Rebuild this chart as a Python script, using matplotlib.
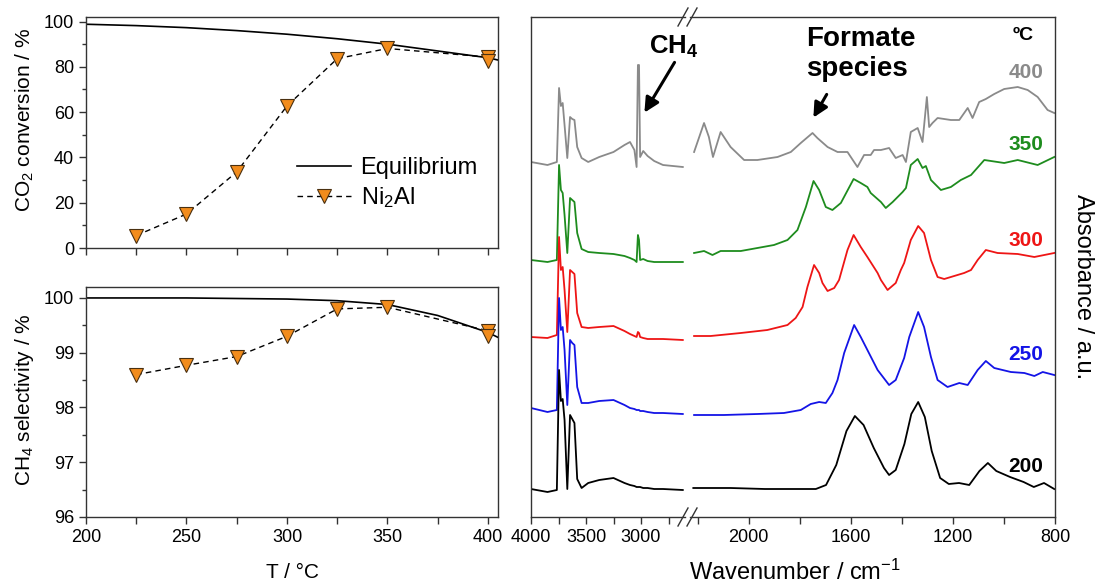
# Catalytic tests (left) and operando IR spectra (right)
import matplotlib
matplotlib.use("Agg")
import matplotlib.pyplot as plt
from matplotlib.lines import Line2D
from matplotlib.ticker import MultipleLocator

plt.rcParams['font.family'] = ['Liberation Sans', 'DejaVu Sans']
plt.rcParams['mathtext.fontset'] = 'custom'
plt.rcParams['mathtext.rm'] = 'Liberation Sans'
plt.rcParams['mathtext.bf'] = 'Liberation Sans:bold'
plt.rcParams['mathtext.default'] = 'regular'

# ---- catalytic data ----
temp_eq = [200, 225, 250, 275, 300, 325, 350, 375, 400, 405]
conv_eq = [98.8, 98.2, 97.3, 96.0, 94.4, 92.4, 90.0, 87.0, 84.0, 83.0]
sel_eq = [100.0, 100.0, 100.0, 99.99, 99.98, 99.95, 99.88, 99.68, 99.37, 99.28]

temp_cat = [225, 250, 275, 300, 325, 350, 400, 400]
conv_cat = [5.5, 15.0, 33.6, 62.7, 83.6, 88.1, 84.3, 82.6]
sel_cat = [98.6, 98.77, 98.93, 99.3, 99.8, 99.83, 99.4, 99.3]

# ---- IR spectra, high wavenumber part (4000-2600) ----
wn_lo = [4000, 3850, 3765, 3745, 3728, 3712, 3695, 3670, 3645, 3625, 3605, 3580, 3540, 3480,
         3380, 3250, 3150, 3100, 3060, 3040, 3028, 3018, 3008, 2980, 2940, 2880, 2800, 2620]
abs_400_lo = [3.55, 3.52, 3.55, 4.29, 4.11, 4.14, 3.92, 3.59, 4.00, 3.98, 3.97, 3.70, 3.59, 3.55,
              3.60, 3.65, 3.72, 3.75, 3.67, 3.50, 4.52, 4.52, 3.60, 3.66, 3.61, 3.56, 3.52, 3.50]
abs_350_lo = [2.57, 2.55, 2.57, 3.52, 3.27, 3.24, 3.02, 2.64, 3.19, 3.17, 3.15, 2.84, 2.68, 2.65,
              2.64, 2.63, 2.61, 2.59, 2.57, 2.55, 2.82, 2.77, 2.57, 2.58, 2.56, 2.55, 2.55, 2.55]
abs_300_lo = [1.80, 1.79, 1.82, 2.80, 2.47, 2.50, 2.27, 1.85, 2.47, 2.45, 2.43, 2.04, 1.90, 1.89,
              1.90, 1.91, 1.86, 1.83, 1.81, 1.80, 1.85, 1.84, 1.80, 1.79, 1.78, 1.78, 1.78, 1.77]
abs_250_lo = [1.09, 1.05, 1.07, 2.19, 1.87, 1.90, 1.67, 1.12, 1.77, 1.74, 1.72, 1.30, 1.14, 1.14,
              1.16, 1.17, 1.12, 1.09, 1.08, 1.07, 1.07, 1.07, 1.06, 1.06, 1.05, 1.04, 1.04, 1.03]
abs_200_lo = [0.28, 0.25, 0.27, 1.47, 1.16, 1.18, 0.97, 0.28, 1.02, 0.98, 0.94, 0.38, 0.29, 0.34,
              0.37, 0.39, 0.34, 0.32, 0.31, 0.30, 0.30, 0.30, 0.30, 0.29, 0.29, 0.28, 0.28, 0.27]

# ---- IR spectra, low wavenumber part (2230-800) ----
wn_400_hi = [2214, 2175, 2156, 2140, 2110, 2071, 2018, 1966, 1887, 1835, 1796, 1750, 1731, 1691, 1652,
             1613, 1574, 1548, 1522, 1509, 1482, 1450, 1424, 1397, 1384, 1365, 1338, 1319, 1302, 1293,
             1280, 1260, 1208, 1175, 1142, 1123, 1097, 1071, 1038, 999, 946, 907, 868, 829, 803]
abs_400_hi = [3.65, 3.94, 3.80, 3.60, 3.85, 3.70, 3.57, 3.57, 3.60, 3.65, 3.74, 3.84, 3.79, 3.70, 3.65,
              3.65, 3.50, 3.62, 3.62, 3.67, 3.67, 3.69, 3.59, 3.62, 3.55, 3.85, 3.89, 3.75, 4.20, 3.90,
              3.94, 3.99, 3.97, 3.97, 4.09, 3.99, 4.15, 4.18, 4.23, 4.28, 4.30, 4.27, 4.20, 4.07, 4.04]
wn_350_hi = [2214, 2175, 2142, 2110, 2031, 1966, 1901, 1848, 1809, 1776, 1746, 1724, 1698, 1672, 1639,
             1589, 1561, 1535, 1522, 1482, 1463, 1436, 1397, 1384, 1365, 1338, 1319, 1306, 1286, 1247,
             1208, 1169, 1129, 1077, 999, 946, 868, 803]
abs_350_hi = [2.64, 2.66, 2.62, 2.66, 2.66, 2.69, 2.72, 2.77, 2.87, 3.10, 3.36, 3.27, 3.10, 3.07, 3.14,
              3.38, 3.34, 3.30, 3.24, 3.15, 3.09, 3.15, 3.25, 3.29, 3.52, 3.58, 3.49, 3.51, 3.37, 3.27,
              3.30, 3.37, 3.42, 3.57, 3.54, 3.57, 3.52, 3.60]
wn_300_hi = [2214, 2149, 2031, 1927, 1848, 1816, 1789, 1770, 1744, 1724, 1711, 1691, 1665, 1646, 1613,
             1589, 1561, 1535, 1495, 1482, 1456, 1424, 1404, 1391, 1365, 1336, 1313, 1286, 1260, 1234,
             1182, 1156, 1129, 1103, 1071, 1025, 946, 881, 803]
abs_300_hi = [1.81, 1.81, 1.84, 1.87, 1.92, 1.99, 2.10, 2.30, 2.52, 2.44, 2.34, 2.26, 2.29, 2.37, 2.67,
              2.82, 2.70, 2.60, 2.44, 2.37, 2.27, 2.34, 2.47, 2.54, 2.77, 2.91, 2.84, 2.57, 2.40, 2.38,
              2.42, 2.44, 2.47, 2.57, 2.67, 2.64, 2.63, 2.60, 2.64]
wn_250_hi = [2214, 2097, 1966, 1862, 1796, 1757, 1724, 1698, 1672, 1652, 1626, 1587, 1561, 1535, 1495,
             1450, 1424, 1391, 1371, 1336, 1313, 1286, 1260, 1221, 1175, 1142, 1103, 1071, 1038, 973,
             920, 881, 848, 803]
abs_250_hi = [1.02, 1.02, 1.03, 1.04, 1.07, 1.13, 1.15, 1.14, 1.24, 1.37, 1.64, 1.92, 1.80, 1.67, 1.47,
              1.32, 1.37, 1.59, 1.80, 2.05, 1.90, 1.60, 1.37, 1.30, 1.34, 1.32, 1.47, 1.56, 1.49, 1.45,
              1.44, 1.41, 1.45, 1.42]
wn_200_hi = [2217, 2071, 1937, 1804, 1737, 1697, 1657, 1617, 1584, 1550, 1510, 1470, 1450, 1424, 1390,
             1363, 1336, 1310, 1283, 1250, 1216, 1176, 1136, 1096, 1063, 1030, 976, 923, 883, 843, 803]
abs_200_hi = [0.29, 0.29, 0.28, 0.28, 0.28, 0.32, 0.52, 0.86, 1.01, 0.92, 0.69, 0.49, 0.42, 0.47, 0.73,
              1.03, 1.15, 1.00, 0.66, 0.39, 0.33, 0.34, 0.32, 0.46, 0.54, 0.46, 0.40, 0.35, 0.30, 0.34, 0.28]

temps = ['400', '350', '300', '250', '200']
colors = ['#8a8a8a', '#1e8c1e', '#ee1515', '#1414e6', '#000000']
label_y = [4.44, 3.72, 2.77, 1.62, 0.51]

W, H = 1097, 586
SPINE = '#333333'


def box(x0, y0, x1, y1):
    '''Pixel box (y measured from top) -> figure fraction rect.'''
    return [x0 / W, 1 - y1 / H, (x1 - x0) / W, (y1 - y0) / H]


def style_axes(ax):
    for s in ax.spines.values():
        s.set_color(SPINE)
        s.set_linewidth(1.0)
    ax.tick_params(which='both', direction='out', width=1, color=SPINE, labelsize=13)
    ax.tick_params(which='major', length=5)
    ax.tick_params(which='minor', length=3)


def slash(fig, cx, cy):
    '''Little "/" break mark centred at a pixel position.'''
    fig.add_artist(Line2D([(cx - 5) / W, (cx + 5) / W], [1 - (cy + 9) / H, 1 - (cy - 9) / H],
                          color=SPINE, lw=1.0, transform=fig.transFigure))


def main():
    fig = plt.figure(figsize=(W / 100, H / 100), dpi=100)

    # ---- CO2 conversion ----
    ax1 = fig.add_axes(box(86, 17, 498, 248))
    style_axes(ax1)
    ax1.plot(temp_eq, conv_eq, color='black', lw=1.2, label='Equilibrium')
    ax1.plot(temp_cat, conv_cat, color='black', lw=1.0, ls=(0, (4, 3)), marker='v', ms=10,
             mfc='#f28c1c', mec='#4a3010', mew=0.8, label='Ni$_2$Al')
    ax1.set_xlim(200, 405)
    ax1.set_ylim(0, 102)
    ax1.xaxis.set_major_locator(MultipleLocator(50))
    ax1.xaxis.set_minor_locator(MultipleLocator(25))
    ax1.yaxis.set_major_locator(MultipleLocator(20))
    ax1.yaxis.set_minor_locator(MultipleLocator(10))
    ax1.tick_params(axis='x', which='minor', length=5)
    ax1.tick_params(labelbottom=False)
    ax1.legend(loc='center left', bbox_to_anchor=(0.46, 0.28), frameon=False, fontsize=17,
               handlelength=2.3, handletextpad=0.4, labelspacing=0.25)

    # ---- CH4 selectivity ----
    ax2 = fig.add_axes(box(86, 287, 498, 517))
    style_axes(ax2)
    ax2.plot(temp_eq, sel_eq, color='black', lw=1.2)
    ax2.plot(temp_cat, sel_cat, color='black', lw=1.0, ls=(0, (4, 3)), marker='v', ms=10,
             mfc='#f28c1c', mec='#4a3010', mew=0.8)
    ax2.set_xlim(200, 405)
    ax2.set_ylim(96, 100.2)
    ax2.xaxis.set_major_locator(MultipleLocator(50))
    ax2.xaxis.set_minor_locator(MultipleLocator(25))
    ax2.yaxis.set_major_locator(MultipleLocator(1))
    ax2.yaxis.set_minor_locator(MultipleLocator(0.5))
    ax2.tick_params(axis='x', which='minor', length=5)

    fig.text(25 / W, 1 - 120 / H, 'CO$_2$ conversion / %', rotation=90, ha='center', va='center', fontsize=15)
    fig.text(25 / W, 1 - 400 / H, 'CH$_4$ selectivity / %', rotation=90, ha='center', va='center', fontsize=15)
    fig.text(292 / W, 1 - 573 / H, 'T / °C', ha='center', va='center', fontsize=15)

    # ---- IR spectra (broken wavenumber axis) ----
    axa = fig.add_axes(box(531, 17, 685, 517))
    axb = fig.add_axes(box(690, 17, 1055, 517))
    axb.patch.set_visible(False)
    lo_sets = [abs_400_lo, abs_350_lo, abs_300_lo, abs_250_lo, abs_200_lo]
    hi_sets = [(wn_400_hi, abs_400_hi), (wn_350_hi, abs_350_hi), (wn_300_hi, abs_300_hi),
               (wn_250_hi, abs_250_hi), (wn_200_hi, abs_200_hi)]
    for ax in (axa, axb):
        style_axes(ax)
        ax.set_ylim(0, 5.0)
        ax.set_yticks([])
        ax.tick_params(axis='x', which='minor', length=5)
    for lo, (wn, hi), c in zip(lo_sets, hi_sets, colors):
        axa.plot(wn_lo, lo, color=c, lw=1.3)
        axb.plot(wn, hi, color=c, lw=1.3)
    axa.set_xlim(4000, 2600)
    axb.set_xlim(2230, 800)
    axa.xaxis.set_major_locator(MultipleLocator(500))
    axa.xaxis.set_minor_locator(MultipleLocator(250))
    axb.xaxis.set_major_locator(MultipleLocator(400))
    axb.xaxis.set_minor_locator(MultipleLocator(200))
    axa.spines['right'].set_visible(False)
    axb.spines['left'].set_visible(False)
    for cx in (683, 692):
        slash(fig, cx, 17)
        slash(fig, cx, 517)

    # temperature labels
    axb.text(882, 4.82, 'ºC', ha='right', va='center', fontsize=14, fontweight='bold')
    for t, c, y in zip(temps, colors, label_y):
        axb.text(847, y, t, ha='right', va='center', fontsize=15, fontweight='bold', color=c)

    # annotations
    fig.text(674 / W, 1 - 47 / H, r'CH$_\mathbf{4}$', ha='center', va='center', fontsize=18.5,
             fontweight='bold')
    axa.annotate('', xy=(2982, 4.02), xytext=(2682, 4.57), annotation_clip=False,
                 arrowprops=dict(arrowstyle='-|>', lw=2.2, color='black', mutation_scale=22))
    axb.text(1776, 4.63, 'Formate\nspecies', ha='left', va='center', fontsize=20, fontweight='bold')
    axb.annotate('', xy=(1752, 3.97), xytext=(1689, 4.25),
                 arrowprops=dict(arrowstyle='-|>', lw=2.2, color='black', mutation_scale=22))

    fig.text(795 / W, 1 - 572 / H, 'Wavenumber / cm$^{-1}$', ha='center', va='center', fontsize=17)
    fig.text(1083 / W, 1 - 287 / H, 'Absorbance / a.u.', rotation=270, ha='center', va='center', fontsize=17)

    fig.savefig('out.png', dpi=100)


if __name__ == "__main__":
    main()
